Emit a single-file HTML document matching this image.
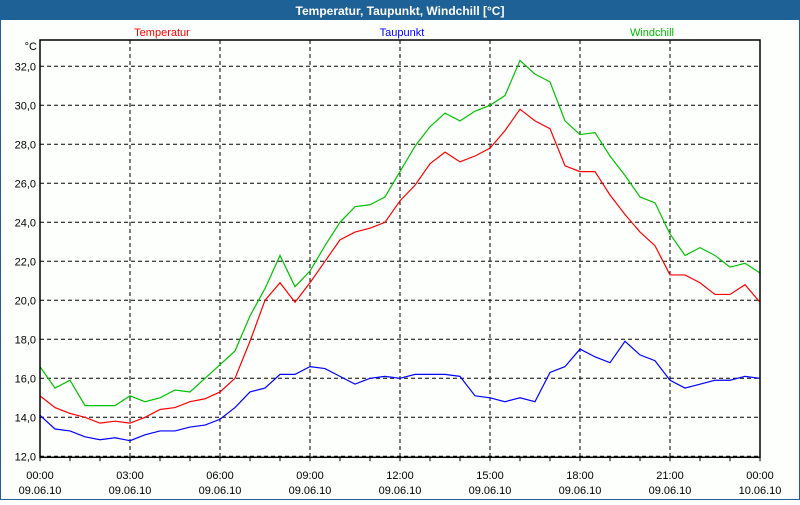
<!DOCTYPE html>
<html><head><meta charset="utf-8"><style>
body{margin:0;background:#fff;width:800px;height:500px;overflow:hidden;font-family:"Liberation Sans",sans-serif}
</style></head><body>
<svg width="800" height="500" xmlns="http://www.w3.org/2000/svg">
<rect x="0" y="0" width="800" height="500" fill="#1d6196"/>
<rect x="1" y="20" width="798" height="479" fill="#fdfffd"/>
<text x="400" y="15" text-anchor="middle" fill="#fff" font-size="12" font-weight="bold">Temperatur, Taupunkt, Windchill [°C]</text>
<text x="162" y="36" text-anchor="middle" fill="#ff0000" font-size="11">Temperatur</text>
<text x="402" y="36" text-anchor="middle" fill="#0000ff" font-size="11">Taupunkt</text>
<text x="652" y="36" text-anchor="middle" fill="#00bb00" font-size="11">Windchill</text>
<text x="37" y="50" text-anchor="end" font-size="11" fill="#000">°C</text>
<g id="grid"></g><g id="series"></g><g id="axes"></g>
</svg>
<script>
const yTicks=[12,14,16,18,20,22,24,26,28,30,32];
const xTicks=[0,3,6,9,12,15,18,21,24];
const xTimeLabels=["00:00","03:00","06:00","09:00","12:00","15:00","18:00","21:00","00:00"];
const xDateLabels=["09.06.10","09.06.10","09.06.10","09.06.10","09.06.10","09.06.10","09.06.10","09.06.10","10.06.10"];
const temperatur=[15.1,14.5,14.2,14.0,13.7,13.8,13.7,14.0,14.4,14.5,14.8,14.95,15.3,16.0,17.9,20.0,20.9,19.9,20.9,22.0,23.1,23.5,23.7,24.0,25.1,25.9,27.0,27.6,27.1,27.4,27.8,28.7,29.8,29.2,28.8,26.9,26.6,26.6,25.4,24.4,23.5,22.8,21.3,21.3,20.9,20.3,20.3,20.8,19.9];
const taupunkt=[14.1,13.4,13.3,13.0,12.85,12.95,12.8,13.1,13.3,13.3,13.5,13.6,13.9,14.5,15.3,15.5,16.2,16.2,16.6,16.5,16.1,15.7,16.0,16.1,16.0,16.2,16.2,16.2,16.1,15.1,15.0,14.8,15.0,14.8,16.3,16.6,17.5,17.1,16.8,17.9,17.2,16.9,15.9,15.5,15.7,15.9,15.9,16.1,16.0];
const windchill=[16.6,15.5,15.9,14.6,14.6,14.6,15.1,14.8,15.0,15.4,15.3,16.0,16.7,17.4,19.2,20.6,22.3,20.7,21.5,22.8,24.0,24.8,24.9,25.3,26.6,27.9,28.9,29.6,29.2,29.7,30.0,30.5,32.3,31.6,31.2,29.2,28.5,28.6,27.4,26.4,25.3,25.0,23.4,22.3,22.7,22.3,21.7,21.9,21.4];
const X0=40,X1=760,YT=40,Y12=456.3,PX=19.5;
function xs(h){return X0+h*(X1-X0)/24}
function ys(v){return Y12-(v-12)*PX}
const NS="http://www.w3.org/2000/svg";
function mk(t,a,p){const e=document.createElementNS(NS,t);for(const k in a)e.setAttribute(k,a[k]);p.appendChild(e);return e}
const grid=document.getElementById('grid'),series=document.getElementById('series'),axes=document.getElementById('axes');
yTicks.forEach(v=>{
 const l=mk('line',{x1:X0,x2:X1,y1:ys(v),y2:ys(v),stroke:'#000','stroke-dasharray':'4,3'},grid);
 
 
 const t=mk('text',{x:36,y:ys(v)+4,'text-anchor':'end','font-size':11,fill:'#000'},axes);
 t.textContent=v.toFixed(1).replace('.',',');
 
 
});
xTicks.forEach((h,i)=>{
 if(i>0&&i<xTicks.length-1){const l=mk('line',{x1:xs(h),x2:xs(h),y1:YT,y2:Y12,stroke:'#000','stroke-dasharray':'4,3'},grid);
 
 }
 const t=mk('text',{x:xs(h),y:479,'text-anchor':'middle','font-size':11,fill:'#000'},axes);
 t.textContent=xTimeLabels[i];
 
 
 const d=mk('text',{x:xs(h),y:494,'text-anchor':'middle','font-size':11,fill:'#000'},axes);
 d.textContent=xDateLabels[i];
 
 
});
for(let h=0;h<=24;h++){const l=mk('line',{x1:xs(h),x2:xs(h),y1:Y12,y2:Y12+5,stroke:'#000'},axes);
 
 }
const box=mk('rect',{x:X0,y:YT,width:X1-X0,height:Y12-YT+1,fill:'none',stroke:'#000','stroke-width':1.5},axes);


[[windchill,'#00c000','windchill-line'],[temperatur,'#ff0000','temperatur-line'],[taupunkt,'#0000ff','taupunkt-line']].forEach(([arr,c,n])=>{
 const pts=arr.map((v,i)=>xs(i*0.5)+','+ys(v)).join(' ');
 const p=mk('polyline',{points:pts,fill:'none',stroke:c,'stroke-width':1.2},series);
 
 
});
</script>
</body></html>
